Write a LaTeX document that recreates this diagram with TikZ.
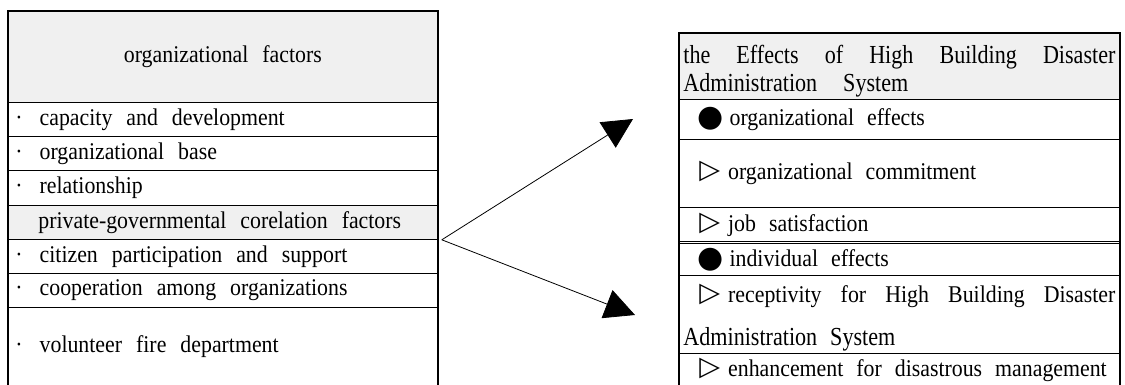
\documentclass[tikz,border=0pt]{standalone}
\usepackage{fontspec}
\setmainfont{Liberation Serif}
\newfontfamily\symfont{DejaVu Sans}
\usetikzlibrary{arrows.meta}
\definecolor{headgray}{HTML}{F0F0F0}
\hyphenpenalty=10000
\exhyphenpenalty=10000
\tolerance=10000
% size, leading, horizontal stretch
\newcommand{\txt}[3]{\fontsize{#1}{#2}\selectfont\addfontfeature{FakeStretch=#3}}
\newcommand{\widesp}{\spaceskip=13pt plus 12pt minus 3pt\relax}
\newcommand{\fixsp}{\spaceskip=14pt\relax}
\newcommand{\dotmark}{\raisebox{-1pt}{\symfont\fontsize{30}{30}\selectfont ●}\hspace{6pt}}
\newcommand{\trimark}{\raisebox{1pt}{\symfont\fontsize{27}{27}\selectfont ▷}\hspace{8pt}}
\newcommand{\itm}{\hspace{3pt}·\hspace{17pt}}

\begin{document}
\begin{tikzpicture}[
    x=1pt, y=-1pt,
    lrow/.style={draw, line width=0.8pt, anchor=north west, inner xsep=4pt, inner ysep=0pt,
                 minimum width=429pt, text width=421pt, align=left, minimum height=#1,
                 font=\txt{24}{26}{0.91}, execute at begin node=\fixsp},
    rrow/.style={draw, line width=0.8pt, anchor=north west, inner xsep=4pt, inner ysep=0pt,
                 minimum width=440pt, text width=432pt, align=justify, minimum height=#1,
                 font=\txt{24}{26}{0.91}, execute at begin node=\widesp},
    graybox/.style={fill=headgray},
    frame/.style={line width=2pt},
    bigarrow/.style={-{Triangle[length=30pt,width=30pt]}, line width=0.8pt}
    ]
\useasboundingbox (0,0) rectangle (1125,385);
% left box: organizational factors
\node[lrow=91pt, graybox, align=center] (lhd) at (8,11) {organizational factors};
\node[lrow=34pt] (r1) at (8,102) {\itm capacity and development};
\node[lrow=34pt] (r2) at (8,136) {\itm organizational base};
\node[lrow=35pt] (r3) at (8,170) {\itm relationship};
\node[lrow=34pt, graybox] (r4) at (8,205) {\hspace{26pt}private-governmental corelation factors};
\node[lrow=34pt] (r5) at (8,239) {\itm citizen participation and support};
\node[lrow=34pt] (r6) at (8,273) {\itm cooperation among organizations};
\node[lrow=79pt] (r7) at (8,307) {\itm volunteer fire department};
\draw[frame] (lhd.north west) rectangle (r7.south east);
% right box: effects
\node[rrow=66pt, graybox, font=\txt{26}{28}{0.85}] (rhd) at (679,33)
    {\rule{0pt}{28pt}the Effects of High Building Disaster Administration\hspace{13pt} System};
\node[rrow=40pt] (e1) at (679,99) {\hspace{14pt}\dotmark organizational effects};
\node[rrow=68pt] (e2) at (679,139) {\hspace{16pt}\trimark organizational commitment};
\node[rrow=34pt] (e3) at (679,207) {\hspace{16pt}\trimark job satisfaction};
\node[rrow=32pt] (e4) at (679,243) {\hspace{14pt}\dotmark individual effects};
\node[rrow=78pt, font=\txt{24}{43}{0.91}] (e5) at (679,275)
    {\rule{0pt}{24pt}\hspace{16pt}\trimark receptivity for High Building Disaster\linebreak
     {\txt{26}{43}{0.85}Administration System}};
\node[rrow=33pt] (e6) at (679,353)
    {\hspace{16pt}\trimark enhancement for disastrous management};
\draw[frame] (rhd.north west) rectangle (e6.south east);
% arrows
\coordinate (tipA) at (633,119);
\coordinate (tipB) at (635,315);
\path ([xshift=4pt]r4.south east) edge[bigarrow] (tipA);
\path ([xshift=4pt]r4.south east) edge[bigarrow] (tipB);
\end{tikzpicture}
\end{document}
